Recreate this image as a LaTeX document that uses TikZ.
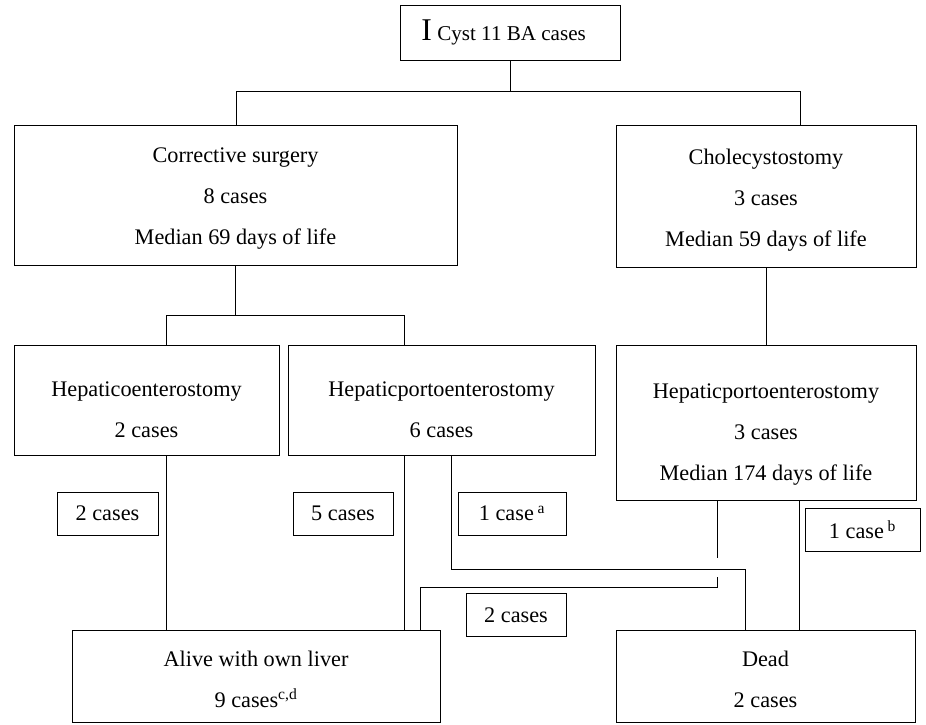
\documentclass[tikz,border=0pt]{standalone}
\usepackage{fontspec}
\setmainfont{Liberation Serif}
\usetikzlibrary{positioning,calc}
\newcommand{\pxu}{0.03cm}
% lower a line of text without changing its box
\newcommand{\dropline}[2]{\raisebox{-#1}[\height][\depth]{#2}}

\begin{document}
\begin{tikzpicture}[
    x=\pxu, y=-\pxu,
    box/.style={rectangle, draw=black, line width=0.7pt, inner sep=0pt, align=center, font=\fontsize{19}{35}\selectfont},
    countbox/.style={box, minimum height={43*\pxu}},
    link/.style={draw=black, line width=0.7pt}
]
\useasboundingbox (0,0) rectangle (926,724);

% Root
\node[box, minimum width={220*\pxu}, minimum height={55*\pxu}, font=\fontsize{18}{20}\selectfont] (cyst) at (510,32.5) {{\fontsize{27}{27}\selectfont I} Cyst 11 BA cases\hspace{0.6em}};

% First level
\node[box, minimum width={443*\pxu}, minimum height={140*\pxu}] (surgery) at (235.5,195) {\dropline{1.2mm}{Corrective surgery}\\\dropline{1.2mm}{8 cases}\\\dropline{1.2mm}{Median 69 days of life}};
\node[box, minimum width={300*\pxu}, minimum height={142*\pxu}] (chole) at (766,196) {\dropline{1.2mm}{Cholecystostomy}\\\dropline{1.2mm}{3 cases}\\\dropline{1.2mm}{Median 59 days of life}};

% Second level
\node[box, minimum width={265*\pxu}, minimum height={110*\pxu}] (hepe) at (146.5,400) {\dropline{3mm}{Hepaticoenterostomy}\\\dropline{3mm}{2 cases}};
\node[box, minimum width={307*\pxu}, minimum height={110*\pxu}] (hpe-m) at (441.5,400) {\dropline{3mm}{Hepaticportoenterostomy}\\\dropline{3mm}{6 cases}};
\node[box, minimum width={300*\pxu}, minimum height={155*\pxu}] (hpe-r) at (766,422.5) {\dropline{3.6mm}{Hepaticportoenterostomy}\\\dropline{3.6mm}{3 cases}\\\dropline{3.6mm}{Median 174 days of life}};

% Outcomes
\node[box, minimum width={368*\pxu}, minimum height={92*\pxu}] (alive) at (256,676) {\dropline{0.9mm}{Alive with own liver}\\\dropline{0.9mm}{9 cases\textsuperscript{c,d}}};
\node[box, minimum width={299*\pxu}, minimum height={92*\pxu}] (dead) at (765.5,676) {\dropline{0.9mm}{Dead}\\\dropline{0.9mm}{2 cases}};

% Case counts
\node[countbox, minimum width={101*\pxu}] (count-l) at (107.5,513.5) {2 cases};
\node[countbox, minimum width={100*\pxu}] (count-m) at (343,513.5) {5 cases};
\node[countbox, minimum width={108*\pxu}] (count-a) at (512,513.5) {1 case\,\textsuperscript{a}};
\node[countbox, minimum width={115*\pxu}] (count-b) at (862.5,529.5) {1 case\,\textsuperscript{b}};
\node[countbox, minimum width={100*\pxu}] (count-r) at (516,615) {2 cases};

% Junction points
\coordinate (split-top-l) at (236,91);
\coordinate (split-top-r) at (800,91);
\coordinate (split-mid-l) at (166,315);
\coordinate (split-mid-r) at (404,315);
\coordinate (turn-a) at (451,569);
\coordinate (turn-a2) at (745,569);
\coordinate (gap-top) at (717,558);
\coordinate (gap-bot) at (717,577);
\coordinate (turn-b) at (717,587);
\coordinate (turn-b2) at (420,587);
\coordinate (drop-b) at (799,500);

% Tree lines
\draw[link] (cyst.south) -- (cyst.south |- split-top-l);
\draw[link] (split-top-l |- surgery.north) -- (split-top-l) -- (split-top-r) -- (split-top-r |- chole.north);
\draw[link] (surgery.south) -- (surgery.south |- split-mid-l);
\draw[link] (split-mid-l |- hepe.north) -- (split-mid-l) -- (split-mid-r) -- (split-mid-r |- hpe-m.north);
\draw[link] (chole.south) -- (hpe-r.north);

% Outcome lines
\draw[link] (split-mid-l |- hepe.south) -- (split-mid-l |- alive.north);
\draw[link] (split-mid-r |- hpe-m.south) -- (split-mid-r |- alive.north);
\draw[link] (turn-a |- hpe-m.south) -- (turn-a) -- (turn-a2) -- (turn-a2 |- dead.north);
\draw[link] (gap-top |- hpe-r.south) -- (gap-top);
\draw[link] (gap-bot) -- (turn-b) -- (turn-b2) -- (turn-b2 |- alive.north);
\draw[link] (drop-b |- hpe-r.south) -- (drop-b |- dead.north);

\end{tikzpicture}
\end{document}
